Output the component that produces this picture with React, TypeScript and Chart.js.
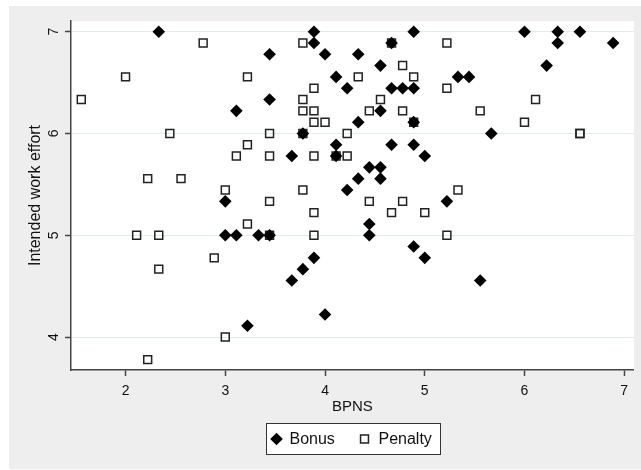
import React, { useEffect, useRef } from "react";
import { Chart, registerables } from "chart.js";

Chart.register(...registerables);

// Bonus condition: BPNS score and intended work effort per participant
const bonusBPNS = [
  2.333, 3.444, 3.444, 3.111, 3.667, 3.889, 3.889, 4.0, 4.333, 4.889,
  4.667, 4.556, 4.111, 5.333, 5.444, 4.222, 4.667, 4.778, 4.889, 4.556,
  4.333, 4.889, 5.667, 3.778, 4.111, 4.667, 4.889, 4.111, 5.0, 4.444,
  4.556, 4.333, 4.556, 4.222, 5.222, 3.0, 3.0, 3.111, 3.333, 3.444,
  3.889, 3.778, 3.667, 4.0, 3.222, 4.444, 4.444, 4.889, 5.0, 5.556,
  6.0, 6.333, 6.556, 6.333, 6.889, 6.222,
];
const bonusEffort = [
  7.0, 6.778, 6.333, 6.222, 5.778, 7.0, 6.889, 6.778, 6.778, 7.0,
  6.889, 6.667, 6.556, 6.556, 6.556, 6.444, 6.444, 6.444, 6.444, 6.222,
  6.111, 6.111, 6.0, 6.0, 5.889, 5.889, 5.889, 5.778, 5.778, 5.667,
  5.667, 5.556, 5.556, 5.444, 5.333, 5.333, 5.0, 5.0, 5.0, 5.0,
  4.778, 4.667, 4.556, 4.222, 4.111, 5.111, 5.0, 4.889, 4.778, 4.556,
  7.0, 7.0, 7.0, 6.889, 6.889, 6.667,
];

// Penalty condition
const penaltyBPNS = [
  2.778, 2.0, 1.556, 3.222, 2.444, 3.444, 3.222, 3.111, 3.444, 3.889,
  2.222, 2.556, 3.0, 3.778, 3.444, 3.778, 3.889, 3.778, 3.778, 3.889,
  3.889, 4.0, 4.667, 5.222, 4.778, 4.333, 4.889, 5.222, 4.556, 6.111,
  4.444, 4.778, 5.556, 4.889, 6.0, 4.222, 6.556, 6.556, 4.222, 3.778,
  4.111, 5.333, 4.444, 4.778, 3.889, 3.222, 2.111, 2.333, 3.889, 2.889,
  2.333, 3.0, 2.222, 4.667, 5.0, 5.222, 3.444,
];
const penaltyEffort = [
  6.889, 6.556, 6.333, 6.556, 6.0, 6.0, 5.889, 5.778, 5.778, 5.778,
  5.556, 5.556, 5.444, 5.444, 5.333, 6.889, 6.444, 6.333, 6.222, 6.222,
  6.111, 6.111, 6.889, 6.889, 6.667, 6.556, 6.556, 6.444, 6.333, 6.333,
  6.222, 6.222, 6.222, 6.111, 6.111, 6.0, 6.0, 6.0, 5.778, 6.0,
  5.778, 5.444, 5.333, 5.333, 5.222, 5.111, 5.0, 5.0, 5.0, 4.778,
  4.667, 4.0, 3.778, 5.222, 5.222, 5.0, 5.0,
];

const seriesNames = ["Bonus", "Penalty"];
const xTickValues = [2, 3, 4, 5, 6, 7];
const yTickValues = [4, 5, 6, 7];
const xTitle = "BPNS";
const yTitle = "Intended work effort";

const FONT = "'Liberation Sans', Arial, Helvetica, sans-serif";
const INK = "#111111";
const AXIS = "#444444";

const toPoints = (xs: number[], ys: number[]) => xs.map((x, i) => ({ x, y: ys[i] }));

function drawMarker(ctx: CanvasRenderingContext2D, style: string, r: number, x: number, y: number, bw: number) {
  ctx.beginPath();
  if (style === "rectRot") {
    ctx.moveTo(x - r, y);
    ctx.lineTo(x, y - r);
    ctx.lineTo(x + r, y);
    ctx.lineTo(x, y + r);
    ctx.closePath();
    ctx.fill();
  } else {
    const s = Math.SQRT1_2 * r;
    ctx.rect(x - s, y - s, 2 * s, 2 * s);
    if (bw > 0) ctx.stroke();
  }
}

const stataFrame = {
  id: "stataFrame",
  beforeDraw(chart: any) {
    const { ctx, chartArea: a, width, height } = chart;
    ctx.save();
    ctx.fillStyle = "#ffffff";
    ctx.fillRect(0, 0, width, height);
    ctx.fillStyle = "#eeeeee";
    ctx.fillRect(9, 6, width - 9, height - 7);
    ctx.fillStyle = "#ffffff";
    ctx.fillRect(a.left, a.top, a.right - a.left, a.bottom - a.top);
    ctx.restore();
  },
  afterDraw(chart: any) {
    const { ctx } = chart;
    const yScale = chart.scales.y;
    ctx.save();
    // vertical tick labels on the y axis
    ctx.fillStyle = INK;
    ctx.font = `14px ${FONT}`;
    ctx.textAlign = "center";
    ctx.textBaseline = "middle";
    yTickValues.forEach((v) => {
      const py = yScale.getPixelForValue(v);
      ctx.save();
      ctx.translate(54, py);
      ctx.rotate(-Math.PI / 2);
      ctx.fillText(String(v), 0, 0);
      ctx.restore();
    });

    // boxed legend below the axis title
    const cx = (chart.chartArea.left + chart.chartArea.right) / 2;
    const boxW = 174;
    const boxH = 31;
    const bx = Math.round(cx - boxW / 2) + 1.5;
    const by = 423.5;
    ctx.fillStyle = "#ffffff";
    ctx.fillRect(bx, by, boxW, boxH);
    ctx.strokeStyle = "#333333";
    ctx.lineWidth = 1;
    ctx.strokeRect(bx, by, boxW, boxH);
    const my = by + boxH / 2;
    const entries = [
      { mx: bx + 10, tx: bx + 23, ds: chart.data.datasets[0] },
      { mx: bx + 98, tx: bx + 112, ds: chart.data.datasets[1] },
    ];
    entries.forEach((e, i) => {
      const ds = e.ds;
      ctx.save();
      ctx.fillStyle = ds.pointBackgroundColor;
      ctx.strokeStyle = ds.pointBorderColor;
      ctx.lineWidth = ds.pointBorderWidth;
      drawMarker(ctx, ds.pointStyle, ds.pointRadius, e.mx, my, ds.pointBorderWidth);
      ctx.restore();
      ctx.fillStyle = INK;
      ctx.font = `16px ${FONT}`;
      ctx.textAlign = "left";
      ctx.textBaseline = "middle";
      ctx.fillText(seriesNames[i], e.tx, my + 1);
    });
    ctx.restore();
  },
};

export default function App() {
  const canvasRef = useRef<HTMLCanvasElement | null>(null);

  useEffect(() => {
    const canvas = canvasRef.current;
    if (!canvas) return;
    const chart = new Chart(canvas, {
      type: "scatter",
      data: {
        datasets: [
          {
            label: seriesNames[0],
            data: toPoints(bonusBPNS, bonusEffort),
            pointStyle: "rectRot",
            pointRadius: 6.3,
            pointBackgroundColor: "#000000",
            pointBorderColor: "#000000",
            pointBorderWidth: 0,
          } as any,
          {
            label: seriesNames[1],
            data: toPoints(penaltyBPNS, penaltyEffort),
            pointStyle: "rect",
            pointRadius: 5.6,
            pointBackgroundColor: "rgba(0,0,0,0)",
            pointBorderColor: "#222222",
            pointBorderWidth: 1.5,
          } as any,
        ],
      },
      options: {
        animation: false,
        responsive: false,
        devicePixelRatio: 1,
        layout: { padding: { left: 9, top: 21, right: 3, bottom: 54 } },
        plugins: {
          legend: { display: false },
          tooltip: { enabled: false },
        },
        scales: {
          x: {
            type: "linear",
            position: "bottom",
            min: 1.453,
            max: 7.097,
            afterBuildTicks: (s: any) => {
              s.ticks = xTickValues.map((v) => ({ value: v }));
            },
            afterFit: (s: any) => {
              s.height = 46;
            },
            grid: {
              drawOnChartArea: false,
              drawTicks: true,
              tickLength: 6,
              tickColor: AXIS,
              tickWidth: 1.5,
            },
            border: { color: AXIS, width: 1.5 },
            ticks: {
              font: { family: FONT, size: 14 },
              color: INK,
              padding: 7,
              maxRotation: 0,
              autoSkip: false,
            },
            title: {
              display: true,
              text: xTitle,
              font: { family: FONT, size: 15 },
              color: INK,
              padding: { top: 0, bottom: 0 },
            },
          },
          y: {
            type: "linear",
            min: 3.676,
            max: 7.105,
            afterBuildTicks: (s: any) => {
              s.ticks = yTickValues.map((v) => ({ value: v }));
            },
            afterFit: (s: any) => {
              s.width = 62;
            },
            grid: {
              color: "#e2ecef",
              lineWidth: 1,
              drawTicks: true,
              tickLength: 6,
              tickColor: AXIS,
              tickWidth: 1.5,
            },
            border: { color: AXIS, width: 1.5 },
            ticks: { display: false },
            title: {
              display: true,
              text: yTitle,
              font: { family: FONT, size: 16 },
              color: INK,
              padding: { top: 17, bottom: 0 },
            },
          },
        },
      } as any,
      plugins: [stataFrame],
    });
    return () => chart.destroy();
  }, []);

  return (
    <canvas
      ref={canvasRef}
      width={641}
      height={470}
      style={{ position: "fixed", left: 0, top: 0, width: 641, height: 470 }}
    />
  );
}
